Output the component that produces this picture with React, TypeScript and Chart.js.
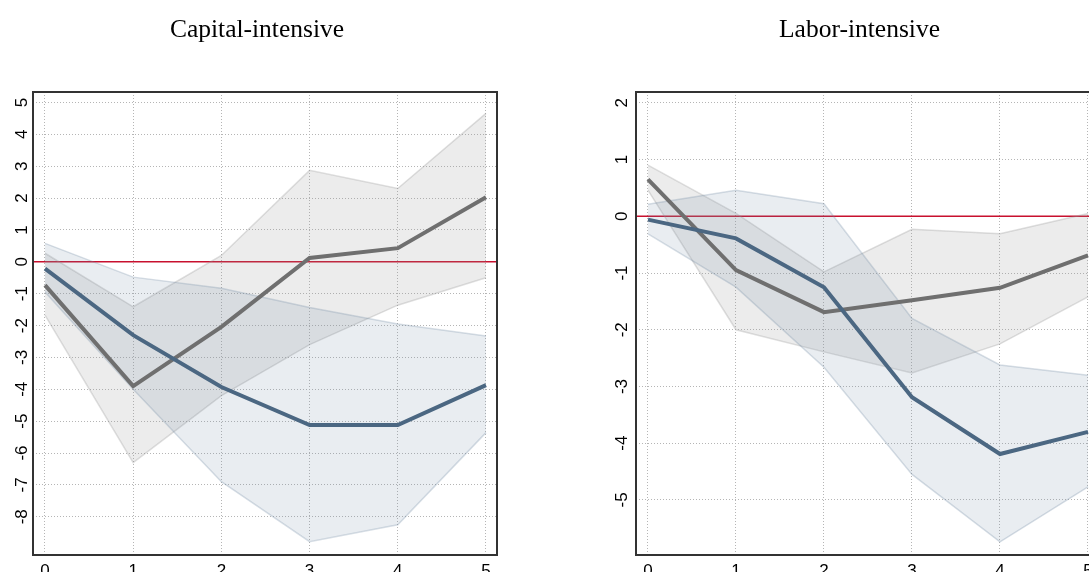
import { useEffect, useRef } from 'react';
import { Chart, registerables } from 'chart.js';

Chart.register(...registerables);

// horizon (years)
const steps = [0, 1, 2, 3, 4, 5];
const xTicks = [0, 1, 2, 3, 4, 5];

// Capital-intensive panel
const capTitle = 'Capital-intensive';
const capYTicks = [-8, -7, -6, -5, -4, -3, -2, -1, 0, 1, 2, 3, 4, 5];
const capGrayMean = [-0.73, -3.9, -2.04, 0.12, 0.43, 2.03];
const capGrayHi = [0.27, -1.41, 0.2, 2.87, 2.3, 4.66];
const capGrayLo = [-1.67, -6.3, -4.2, -2.6, -1.36, -0.5];
const capBlueMean = [-0.21, -2.3, -3.93, -5.12, -5.12, -3.87];
const capBlueHi = [0.58, -0.48, -0.83, -1.43, -1.95, -2.33];
const capBlueLo = [-0.95, -4.0, -6.9, -8.78, -8.25, -5.36];

// Labor-intensive panel
const labTitle = 'Labor-intensive';
const labYTicks = [-5, -4, -3, -2, -1, 0, 1, 2];
const labGrayMean = [0.65, -0.95, -1.69, -1.48, -1.26, -0.69];
const labGrayHi = [0.9, 0.05, -0.98, -0.23, -0.31, 0.05];
const labGrayLo = [0.46, -2.0, -2.39, -2.76, -2.25, -1.42];
const labBlueMean = [-0.06, -0.39, -1.25, -3.19, -4.19, -3.8];
const labBlueHi = [0.21, 0.46, 0.22, -1.8, -2.62, -2.8];
const labBlueLo = [-0.31, -1.25, -2.66, -4.55, -5.74, -4.77];

const pts = (vals: number[]) => vals.map((v, i) => ({ x: steps[i], y: v }));

interface PanelProps {
  title: string;
  yTicks: number[];
  yMin: number;
  yMax: number;
  grayMean: number[];
  grayHi: number[];
  grayLo: number[];
  blueMean: number[];
  blueHi: number[];
  blueLo: number[];
  left: number;
  width: number;
  axisWidth: number;
  padRight: number;
  labelGap: number;
}

function Panel(p: PanelProps) {
  const canvasRef = useRef<HTMLCanvasElement>(null);

  useEffect(() => {
    if (!canvasRef.current) return;
    const ctx = canvasRef.current.getContext('2d');
    if (!ctx) return;

    const decor = {
      id: 'panelDecor',
      beforeDatasetsDraw(chart: any) {
        const c = chart.ctx;
        const area = chart.chartArea;
        const y0 = chart.scales.y.getPixelForValue(0);
        c.save();
        c.strokeStyle = '#c8102e';
        c.lineWidth = 1.5;
        c.beginPath();
        c.moveTo(area.left, y0);
        c.lineTo(area.right, y0);
        c.stroke();
        c.restore();
      },
      afterDraw(chart: any) {
        const c = chart.ctx;
        const area = chart.chartArea;
        c.save();
        // frame
        c.strokeStyle = '#333';
        c.lineWidth = 2;
        c.strokeRect(area.left, area.top, area.right - area.left, area.bottom - area.top);
        // rotated y tick labels
        c.fillStyle = '#000';
        c.font = '17px "Liberation Sans", Arial, sans-serif';
        c.textAlign = 'center';
        c.textBaseline = 'middle';
        p.yTicks.forEach((v) => {
          const y = chart.scales.y.getPixelForValue(v);
          c.save();
          c.translate(area.left - p.labelGap, y);
          c.rotate(-Math.PI / 2);
          c.fillText(String(v), 0, 0);
          c.restore();
        });
        // title
        c.font = '25.5px "Liberation Serif", "Times New Roman", serif';
        c.textBaseline = 'alphabetic';
        c.fillText(p.title, (area.left + area.right) / 2 - 8, 37);
        c.restore();
      },
    };

    const chart = new Chart(ctx, {
      type: 'line',
      data: {
        datasets: [
          {
            data: pts(p.grayHi),
            fill: '+1',
            backgroundColor: 'rgba(150,150,150,0.18)',
            borderColor: 'rgba(150,150,150,0.3)',
            borderWidth: 1.5,
            pointRadius: 0,
            order: 6,
          },
          {
            data: pts(p.grayLo),
            fill: false,
            borderColor: 'rgba(150,150,150,0.3)',
            borderWidth: 1.5,
            pointRadius: 0,
            order: 5,
          },
          {
            data: pts(p.blueHi),
            fill: '+1',
            backgroundColor: 'rgba(110,135,160,0.15)',
            borderColor: 'rgba(110,135,160,0.28)',
            borderWidth: 1.5,
            pointRadius: 0,
            order: 4,
          },
          {
            data: pts(p.blueLo),
            fill: false,
            borderColor: 'rgba(110,135,160,0.28)',
            borderWidth: 1.5,
            pointRadius: 0,
            order: 3,
          },
          {
            data: pts(p.grayMean),
            fill: false,
            borderColor: '#6f6f6f',
            borderWidth: 4,
            pointRadius: 0,
            order: 2,
          },
          {
            data: pts(p.blueMean),
            fill: false,
            borderColor: '#4b6782',
            borderWidth: 4,
            pointRadius: 0,
            order: 1,
          },
        ],
      },
      options: {
        responsive: true,
        maintainAspectRatio: false,
        animation: false,
        layout: { padding: { top: 92, right: p.padRight, left: 0, bottom: 0 } },
        plugins: {
          legend: { display: false },
          tooltip: { enabled: false },
          title: { display: false },
        },
        scales: {
          x: {
            type: 'linear',
            min: -0.136,
            max: 5.125,
            afterBuildTicks: (s: any) => {
              s.ticks = xTicks.map((v) => ({ value: v }));
            },
            afterFit: (s: any) => {
              s.height = 17;
            },
            grid: { color: '#b5b5b5', lineWidth: 1, drawTicks: false },
            border: { display: false, dash: [1, 2] },
            ticks: {
              color: '#000',
              padding: 6,
              maxRotation: 0,
              font: { family: '"Liberation Sans", Arial, sans-serif', size: 17 },
            },
          },
          y: {
            type: 'linear',
            min: p.yMin,
            max: p.yMax,
            afterBuildTicks: (s: any) => {
              s.ticks = p.yTicks.map((v) => ({ value: v }));
            },
            afterFit: (s: any) => {
              s.width = p.axisWidth;
            },
            grid: { color: '#b5b5b5', lineWidth: 1, drawTicks: false },
            border: { display: false, dash: [1, 2] },
            ticks: { display: false },
          },
        },
      },
      plugins: [decor],
    } as any);

    return () => {
      chart.destroy();
    };
  }, [p]);

  return (
    <div style={{ position: 'absolute', left: p.left, top: 0, width: p.width, height: 572 }}>
      <canvas ref={canvasRef}></canvas>
    </div>
  );
}

const capProps: PanelProps = {
  title: capTitle,
  yTicks: capYTicks,
  yMin: -9.2,
  yMax: 5.33,
  grayMean: capGrayMean,
  grayHi: capGrayHi,
  grayLo: capGrayLo,
  blueMean: capBlueMean,
  blueHi: capBlueHi,
  blueLo: capBlueLo,
  left: 0,
  width: 515,
  axisWidth: 33,
  padRight: 18,
  labelGap: 11,
};

const labProps: PanelProps = {
  title: labTitle,
  yTicks: labYTicks,
  yMin: -5.97,
  yMax: 2.19,
  grayMean: labGrayMean,
  grayHi: labGrayHi,
  grayLo: labGrayLo,
  blueMean: labBlueMean,
  blueHi: labBlueHi,
  blueLo: labBlueLo,
  left: 540,
  width: 580,
  axisWidth: 96,
  padRight: 21,
  labelGap: 14,
};

export default function App() {
  return (
    <div
      style={{
        position: 'fixed',
        left: 0,
        top: 0,
        width: 1089,
        height: 572,
        overflow: 'hidden',
        background: '#fff',
      }}
    >
      <Panel {...capProps} />
      <Panel {...labProps} />
    </div>
  );
}
